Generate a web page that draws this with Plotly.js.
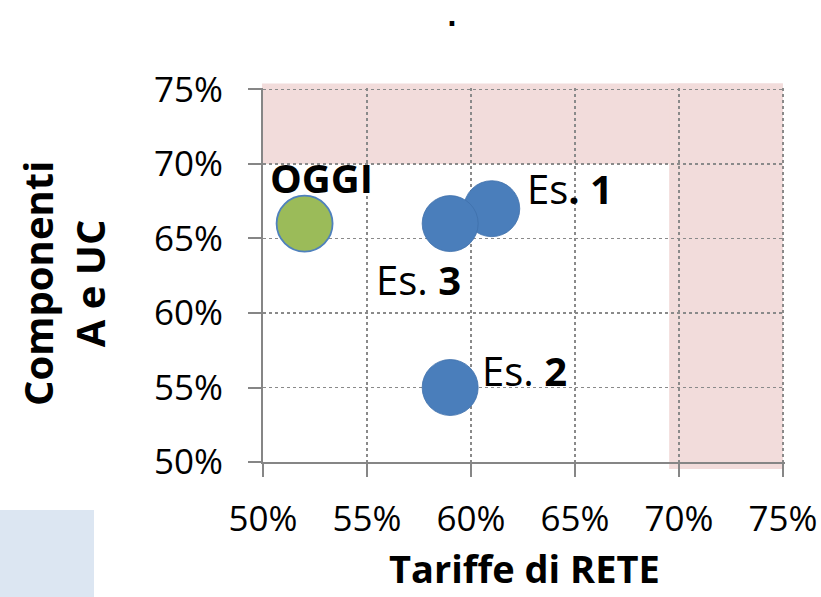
<!DOCTYPE html>
<html>
<head>
<meta charset="utf-8">
<script src="https://cdn.plot.ly/plotly-3.0.1.min.js"></script>
<style>html,body{margin:0;padding:0;background:#fff;}#chart{width:821px;height:597px;}</style>
</head>
<body>
<div id="chart"></div>
<script>
// ---- data ----
const pointNames = ['OGGI', 'Es. 1', 'Es. 2', 'Es. 3'];
const pointLabels = ['<b>OGGI</b>', 'Es<b>. 1</b>', 'Es. <b>2</b>', 'Es. <b>3</b>'];
const tariffeRete = [0.52, 0.61, 0.59, 0.59];
const componentiAUC = [0.66, 0.67, 0.55, 0.66];
const tickValues = [0.50, 0.55, 0.60, 0.65, 0.70, 0.75];
const chartTitle = '<b>.</b>';
const xTitle = '<b>Tariffe di RETE</b>';
const yTitle = '<b>Componenti<br>A e UC</b>';
// critical zones (pink): components above 70%, network tariffs above ~69.5%
const zoneTop = {x0: 0.4995, x1: 0.75, y0: 0.70, y1: 0.754};
const zoneRight = {x0: 0.6953, x1: 0.75, y0: 0.4953, y1: 0.754};

// ---- style ----
const W = 821, H = 597;
const M = {l: 263, r: 36, t: 88, b: 135};
const xRange = [0.5, 0.751], yRange = [0.5, 0.751];
const FONT = '"Open Sans", "Noto Sans", sans-serif';
const blue = '#4a7ebb', green = '#9bbb59', pink = '#f2dcdb';
const labelShift = {
  'OGGI': [17, 46],
  'Es. 1': [78, 20],
  'Es. 2': [74, 17],
  'Es. 3': [-32, -56]
};

function domX(v) { return (v - xRange[0]) / (xRange[1] - xRange[0]); }
function domY(v) { return (v - yRange[0]) / (yRange[1] - yRange[0]); }
const plotW = W - M.l - M.r, plotH = H - M.t - M.b;
function paperX(px) { return (px - M.l) / plotW; }
function paperY(py) { return (H - M.b - py) / plotH; }

const trace = {
  type: 'scatter',
  mode: 'markers',
  x: tariffeRete,
  y: componentiAUC,
  text: pointNames,
  hoverinfo: 'text',
  marker: {
    size: 56,
    opacity: 1,
    color: pointNames.map(n => n === 'OGGI' ? green : blue),
    line: {color: pointNames.map(n => n === 'OGGI' ? '#4f81bd' : '#3f70ab'), width: pointNames.map(n => n === 'OGGI' ? 1.8 : 0.8)}
  },
  showlegend: false,
  cliponaxis: false
};

function zoneShape(z) {
  return {
    type: 'rect', layer: 'below',
    xref: 'x domain', yref: 'y domain',
    x0: domX(z.x0), x1: domX(z.x1), y0: domY(z.y0), y1: domY(z.y1),
    fillcolor: pink, line: {width: 0}
  };
}

const shapes = [
  zoneShape(zoneTop),
  zoneShape(zoneRight),
  {
    type: 'rect', layer: 'below', xref: 'paper', yref: 'paper',
    x0: paperX(0), x1: paperX(94), y0: paperY(600), y1: paperY(510),
    fillcolor: '#dce6f2', line: {width: 0}
  }
];

const annotations = pointNames.map((n, i) => ({
  x: tariffeRete[i], y: componentiAUC[i], xref: 'x', yref: 'y',
  text: pointLabels[i], showarrow: false,
  xanchor: 'center', yanchor: 'middle',
  xshift: labelShift[n][0], yshift: labelShift[n][1],
  font: {family: FONT, size: 40, color: '#000'}
}));

// chart title (a single dot) and axis titles
annotations.push({
  xref: 'paper', yref: 'paper', x: paperX(452), y: paperY(0),
  xanchor: 'center', yanchor: 'top', showarrow: false,
  text: chartTitle, font: {family: '"DejaVu Sans", sans-serif', size: 26, color: '#000'}
});
annotations.push({
  xref: 'paper', yref: 'paper', x: 0.5, y: paperY(596),
  xanchor: 'center', yanchor: 'bottom', showarrow: false,
  text: xTitle, font: {family: FONT, size: 38, color: '#000'}
});
annotations.push({
  xref: 'paper', yref: 'paper', x: paperX(63), y: paperY(284),
  xanchor: 'center', yanchor: 'middle', showarrow: false, textangle: -90,
  text: yTitle, font: {family: FONT, size: 40, color: '#000'}
});

const axisCommon = {
  showline: true, linecolor: '#868686', linewidth: 2,
  ticks: 'outside', ticklen: 13, tickwidth: 2, tickcolor: '#868686',
  showgrid: true, gridcolor: '#8a8a8a', gridwidth: 1.6, griddash: 'dot',
  zeroline: false, tickformat: '.0%',
  tickmode: 'array', tickvals: tickValues,
  tickfont: {family: FONT, size: 35, color: '#000'},
  automargin: false,
  fixedrange: true
};

const layout = {
  width: W, height: H,
  margin: M,
  paper_bgcolor: '#ffffff',
  plot_bgcolor: 'rgba(0,0,0,0)',
  font: {family: FONT, color: '#000'},
  xaxis: Object.assign({}, axisCommon, {range: xRange, ticklabelstandoff: 12}),
  yaxis: Object.assign({}, axisCommon, {range: yRange, ticklabelstandoff: 18}),
  shapes: shapes,
  annotations: annotations,
  showlegend: false
};

Plotly.newPlot('chart', [trace], layout, {displayModeBar: false, staticPlot: true});
</script>
</body>
</html>
